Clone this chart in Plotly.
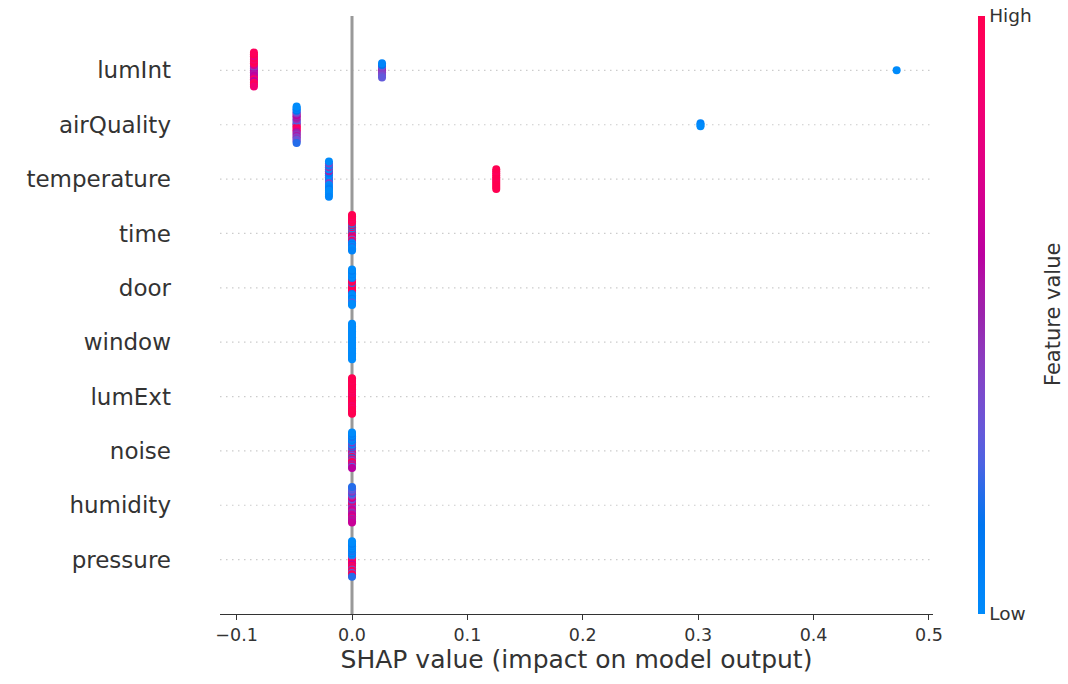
import numpy as np
import plotly.graph_objects as go

# Feature names, most important first (top row of the plot)
features = ["lumInt", "airQuality", "temperature", "time", "door",
            "window", "lumExt", "noise", "humidity", "pressure"]

# SHAP values per sample and normalised feature values (0 = low, 1 = high)
lumInt_shap = [-0.085, -0.085, -0.085, -0.085, -0.085, -0.085, -0.085, -0.085, -0.085, -0.085,
               -0.085, -0.085, -0.085, -0.085, -0.085, -0.085, -0.085, -0.085, -0.085, -0.085,
               0.026, 0.026, 0.026, 0.026, 0.026, 0.026, 0.026, 0.026, 0.026, 0.472]
lumInt_value = [0.55, 0.5, 0.6, 0.45, 0.55, 0.7, 0.6, 0.95, 0.65, 1.0,
                0.9, 0.88, 0.6, 1.0, 0.93, 0.8, 0.97, 1.0, 0.85, 0.95,
                0.45, 0.5, 0.45, 0.35, 0.4, 0.15, 0.35, 0.05, 0.3, 0.0]

airQuality_shap = [-0.048, -0.048, -0.048, -0.048, -0.048, -0.048, -0.048, -0.048, -0.048, -0.048,
                   -0.048, -0.048, -0.048, -0.048, -0.048, -0.048, -0.048, -0.048, -0.048, -0.048,
                   -0.048, -0.048, -0.048, -0.048, -0.048, -0.048, -0.048, 0.302, 0.302, 0.302]
airQuality_value = [0.6, 0.4, 0.9, 0.3, 1.0, 0.25, 0.95, 0.45, 0.85, 0.55,
                    0.7, 0.5, 0.5, 0.6, 0.45, 0.45, 0.55, 0.35, 0.4, 0.15,
                    0.45, 0.05, 0.3, 0.1, 0.35, 0.0, 0.2, 0.0, 0.05, 0.0]

temperature_shap = [-0.020, -0.020, -0.020, -0.020, -0.020, -0.020, -0.020, -0.020, -0.020, -0.020,
                    -0.020, -0.020, -0.020, -0.020, -0.020, -0.020, -0.020, -0.020, -0.020,
                    0.125, 0.125, 0.125, 0.125, 0.125, 0.125, 0.125, 0.125, 0.125, 0.125, 0.125]
temperature_value = [0.1, 0.45, 0.05, 0.0, 0.4, 0.1, 0.0, 0.5, 0.05, 0.0,
                     0.1, 0.45, 0.0, 0.05, 0.0, 0.4, 0.0, 0.0, 0.05,
                     1.0, 0.95, 1.0, 1.0, 0.97, 1.0, 1.0, 0.95, 1.0, 1.0, 1.0]

time_shap = [0.0, 0.0, 0.0, 0.0, 0.0, 0.0, 0.0, 0.0, 0.0, 0.0,
             0.0, 0.0, 0.0, 0.0, 0.0, 0.0, 0.0, 0.0, 0.0, 0.0,
             0.0, 0.0, 0.0, 0.0, 0.0, 0.0, 0.0, 0.0, 0.0, 0.0]
time_value = [0.9, 0.2, 1.0, 0.1, 0.9, 1.0, 0.6, 0.0, 1.0, 0.9,
              0.3, 0.1, 1.0, 1.0, 0.5, 0.0, 0.0, 1.0, 0.1, 0.95,
              0.0, 1.0, 0.2, 0.9, 0.0, 1.0, 0.0, 0.95, 0.05, 1.0]

door_shap = [0.0, 0.0, 0.0, 0.0, 0.0, 0.0, 0.0, 0.0, 0.0, 0.0,
             0.0, 0.0, 0.0, 0.0, 0.0, 0.0, 0.0, 0.0, 0.0, 0.0,
             0.0, 0.0, 0.0, 0.0, 0.0, 0.0, 0.0, 0.0, 0.0, 0.0]
door_value = [1.0, 0.9, 1.0, 1.0, 1.0, 0.95, 1.0, 0.2, 0.9, 1.0,
              0.1, 1.0, 0.0, 0.9, 0.0, 0.1, 0.0, 0.0, 0.1, 0.0,
              0.0, 0.05, 0.0, 0.0, 0.3, 0.0, 0.0, 0.1, 0.0, 0.0]

window_shap = [0.0, 0.0, 0.0, 0.0, 0.0, 0.0, 0.0, 0.0, 0.0, 0.0,
               0.0, 0.0, 0.0, 0.0, 0.0, 0.0, 0.0, 0.0, 0.0, 0.0,
               0.0, 0.0, 0.0, 0.0, 0.0, 0.0, 0.0, 0.0, 0.0, 0.0]
window_value = [0.0, 0.0, 0.0, 0.0, 0.0, 0.0, 0.0, 0.0, 0.0, 0.0,
                0.0, 0.0, 0.0, 0.0, 0.0, 0.0, 0.0, 0.0, 0.0, 0.0,
                0.0, 0.0, 0.0, 0.0, 0.0, 0.0, 0.0, 0.0, 0.0, 0.0]

lumExt_shap = [0.0, 0.0, 0.0, 0.0, 0.0, 0.0, 0.0, 0.0, 0.0, 0.0,
               0.0, 0.0, 0.0, 0.0, 0.0, 0.0, 0.0, 0.0, 0.0, 0.0,
               0.0, 0.0, 0.0, 0.0, 0.0, 0.0, 0.0, 0.0, 0.0, 0.0]
lumExt_value = [1.0, 1.0, 0.9, 1.0, 1.0, 0.85, 1.0, 1.0, 1.0, 0.9,
                1.0, 1.0, 1.0, 0.95, 1.0, 1.0, 0.85, 1.0, 1.0, 1.0,
                0.9, 1.0, 1.0, 1.0, 1.0, 0.95, 1.0, 1.0, 1.0, 1.0]

noise_shap = [0.0, 0.0, 0.0, 0.0, 0.0, 0.0, 0.0, 0.0, 0.0, 0.0,
              0.0, 0.0, 0.0, 0.0, 0.0, 0.0, 0.0, 0.0, 0.0, 0.0,
              0.0, 0.0, 0.0, 0.0, 0.0, 0.0, 0.0, 0.0, 0.0, 0.0]
noise_value = [0.9, 1.0, 0.3, 0.4, 1.0, 0.1, 0.5, 0.5, 0.3, 0.0,
               1.0, 0.2, 0.1, 0.45, 0.9, 0.0, 0.4, 0.1, 1.0, 0.0,
               0.95, 0.2, 0.5, 0.1, 0.8, 0.0, 0.3, 0.1, 0.6, 0.0]

humidity_shap = [0.0, 0.0, 0.0, 0.0, 0.0, 0.0, 0.0, 0.0, 0.0, 0.0,
                 0.0, 0.0, 0.0, 0.0, 0.0, 0.0, 0.0, 0.0, 0.0, 0.0,
                 0.0, 0.0, 0.0, 0.0, 0.0, 0.0, 0.0, 0.0, 0.0, 0.0]
humidity_value = [0.6, 0.7, 0.5, 0.8, 0.4, 0.9, 0.55, 0.5, 0.65, 0.3,
                  0.75, 0.6, 0.45, 0.85, 0.5, 0.4, 0.7, 0.3, 0.6, 0.2,
                  0.8, 0.45, 0.5, 0.35, 0.7, 0.25, 0.55, 0.3, 0.65, 0.2]

pressure_shap = [0.0, 0.0, 0.0, 0.0, 0.0, 0.0, 0.0, 0.0, 0.0, 0.0,
                 0.0, 0.0, 0.0, 0.0, 0.0, 0.0, 0.0, 0.0, 0.0, 0.0,
                 0.0, 0.0, 0.0, 0.0, 0.0, 0.0, 0.0, 0.0, 0.0, 0.0]
pressure_value = [0.5, 1.0, 1.0, 0.9, 0.9, 0.3, 1.0, 0.0, 0.6, 0.1,
                  1.0, 0.0, 0.8, 0.2, 1.0, 0.0, 0.4, 0.1, 1.0, 0.0,
                  0.9, 0.05, 0.3, 0.0, 1.0, 0.1, 0.95, 0.0, 0.2, 0.0]

xticks = [-0.1, 0.0, 0.1, 0.2, 0.3, 0.4, 0.5]

shap_cols = {
    "lumInt": (lumInt_shap, lumInt_value),
    "airQuality": (airQuality_shap, airQuality_value),
    "temperature": (temperature_shap, temperature_value),
    "time": (time_shap, time_value),
    "door": (door_shap, door_value),
    "window": (window_shap, window_value),
    "lumExt": (lumExt_shap, lumExt_value),
    "noise": (noise_shap, noise_value),
    "humidity": (humidity_shap, humidity_value),
    "pressure": (pressure_shap, pressure_value),
}


def lch_to_hex(l, c, h):
    """CIE LCh (D65) -> sRGB hex."""
    a, b = c * np.cos(h), c * np.sin(h)
    fy = (l + 16.0) / 116.0
    fx, fz = fy + a / 500.0, fy - b / 200.0

    def finv(t):
        return t ** 3 if t > 6 / 29 else 3 * (6 / 29) ** 2 * (t - 4 / 29)

    xyz = np.array([0.95047 * finv(fx), finv(fy), 1.08883 * finv(fz)])
    m = np.array([[3.2406, -1.5372, -0.4986],
                  [-0.9689, 1.8758, 0.0415],
                  [0.0557, -0.2040, 1.0570]])
    lin = m @ xyz
    rgb = np.where(lin <= 0.0031308, 12.92 * lin, 1.055 * np.abs(lin) ** (1 / 2.4) - 0.055)
    rgb = np.clip(rgb, 0, 1)
    return "#%02x%02x%02x" % tuple(int(round(v * 255)) for v in rgb)


# perceptual red-blue colour scale (blue -> purple -> red)
blue_lch = (54.0, 70.0, 4.6588)
red_lch = (54.0, 90.0, 0.35470565 + 2 * np.pi)
l_mid = 40.0
colorscale = []
for p in np.linspace(0, 1, 21):
    if p <= 0.5:
        l = blue_lch[0] + (l_mid - blue_lch[0]) * (p / 0.5)
    else:
        l = l_mid + (red_lch[0] - l_mid) * ((p - 0.5) / 0.5)
    c = blue_lch[1] + (red_lch[1] - blue_lch[1]) * p
    h = blue_lch[2] + (red_lch[2] - blue_lch[2]) * p
    colorscale.append([float(p), lch_to_hex(l, c, h)])


def swarm_offsets(vals, nbins=100, row_height=0.4):
    """Beeswarm vertical offsets: stack samples that share a quantised bin."""
    vals = np.asarray(vals, float)
    n = len(vals)
    quant = np.round(nbins * (vals - vals.min()) / (vals.max() - vals.min() + 1e-8))
    order = np.argsort(quant, kind="stable")
    layer, last_bin = 0, -1
    ys = np.zeros(n)
    for ind in order:
        if quant[ind] != last_bin:
            layer = 0
        ys[ind] = np.ceil(layer / 2) * ((layer % 2) * 2 - 1)
        layer += 1
        last_bin = quant[ind]
    ys *= 0.9 * (row_height / np.max(ys + 1))
    return ys


n_feat = len(features)
xs, ys, cs = [], [], []
for rank, name in enumerate(features):
    row = n_feat - 1 - rank
    sv, fv = shap_cols[name]
    off = swarm_offsets(sv)
    xs.extend(sv)
    ys.extend(row + off)
    cs.extend(fv)

fig = go.Figure()

# dotted guide line for each feature row
for r in range(n_feat):
    fig.add_shape(type="line", xref="paper", x0=0, x1=1, yref="y", y0=r, y1=r,
                  line=dict(color="#cccccc", width=1.2, dash="1.5px,4.5px"), layer="below")

# zero line
fig.add_shape(type="line", xref="x", x0=0, x1=0, yref="paper", y0=0, y1=1,
              line=dict(color="#999999", width=3), layer="below")

fig.add_trace(go.Scatter(
    x=xs, y=ys, mode="markers", hoverinfo="skip",
    marker=dict(
        size=8, color=cs, cmin=0, cmax=1, colorscale=colorscale,
        line=dict(width=0),
        colorbar=dict(
            thickness=7, thicknessmode="pixels",
            len=1, lenmode="fraction",
            xref="paper", x=(978 - 220) / 713, xanchor="left",
            yref="paper", y=0.5, yanchor="middle",
            outlinewidth=0, xpad=0, ypad=0,
            tickvals=[0, 1], ticktext=["Low", "High"], ticks="",
            tickfont=dict(family="DejaVu Sans", size=18.5, color="#333333"),
        ),
    ),
    showlegend=False,
))

fig.add_annotation(
    text="Feature value", textangle=-90,
    xref="paper", x=(1053 - 220) / 713, xanchor="center",
    yref="paper", y=0.5, yanchor="middle", showarrow=False,
    font=dict(family="DejaVu Sans", size=21, color="#333333"),
)

fig.update_layout(
    width=1068, height=684,
    margin=dict(l=220, r=135, t=16, b=70),
    paper_bgcolor="white", plot_bgcolor="white",
    font=dict(family="DejaVu Sans", color="#333333"),
    xaxis=dict(
        range=[-0.1144, 0.5035], tickvals=xticks, tickformat=".1f",
        showgrid=False, zeroline=False,
        showline=True, linecolor="#333333", linewidth=1,
        ticks="outside", ticklen=5, tickcolor="#333333", tickwidth=1,
        tickfont=dict(size=17.5, color="#333333"),
        title=dict(text="SHAP value (impact on model output)", standoff=4,
                   font=dict(size=25, color="#333333")),
    ),
    yaxis=dict(
        range=[-1, n_feat], tickvals=list(range(n_feat)),
        ticktext=features[::-1],
        showgrid=False, zeroline=False, showline=False,
        ticks="", ticklabelstandoff=48,
        tickfont=dict(size=23, color="#333333"),
    ),
)

fig.write_html("out.html")
